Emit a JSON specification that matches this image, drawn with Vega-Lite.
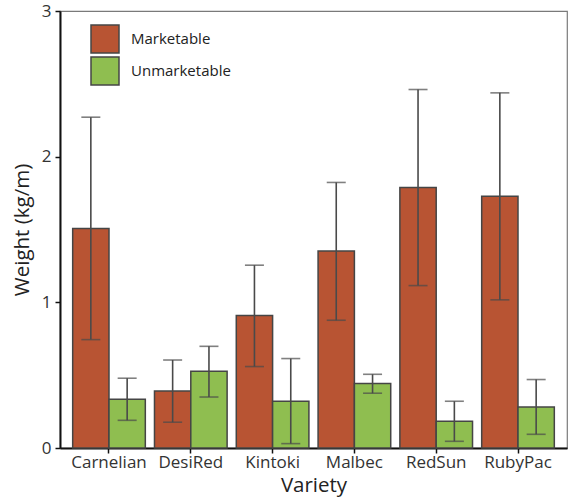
{
  "$schema": "https://vega.github.io/schema/vega-lite/v6.json",
  "autosize": "none",
  "width": 507,
  "height": 437,
  "padding": {"left": 60, "top": 11, "right": 2, "bottom": 56},
  "background": "white",
  "config": {
    "font": "Open Sans",
    "view": {"stroke": "#7a7a7a", "strokeWidth": 1.2},
    "axis": {"grid": false, "domainColor": "#111", "domainWidth": 2, "tickColor": "#111", "tickWidth": 1.5, "tickSize": 5, "labelColor": "#333", "titleColor": "#222", "labelFont": "Open Sans", "titleFont": "Open Sans", "titleFontWeight": "normal"}
  },
  "data": {"values": [
    {"Variety": "Carnelian", "Type": "Marketable", "mean": 1.507, "lo": 0.744, "hi": 2.271},
    {"Variety": "Carnelian", "Type": "Unmarketable", "mean": 0.334, "lo": 0.19, "hi": 0.479},
    {"Variety": "DesiRed", "Type": "Marketable", "mean": 0.392, "lo": 0.177, "hi": 0.604},
    {"Variety": "DesiRed", "Type": "Unmarketable", "mean": 0.527, "lo": 0.35, "hi": 0.698},
    {"Variety": "Kintoki", "Type": "Marketable", "mean": 0.909, "lo": 0.559, "hi": 1.255},
    {"Variety": "Kintoki", "Type": "Unmarketable", "mean": 0.321, "lo": 0.03, "hi": 0.614},
    {"Variety": "Malbec", "Type": "Marketable", "mean": 1.353, "lo": 0.877, "hi": 1.823},
    {"Variety": "Malbec", "Type": "Unmarketable", "mean": 0.442, "lo": 0.376, "hi": 0.506},
    {"Variety": "RedSun", "Type": "Marketable", "mean": 1.788, "lo": 1.115, "hi": 2.461},
    {"Variety": "RedSun", "Type": "Unmarketable", "mean": 0.183, "lo": 0.046, "hi": 0.321},
    {"Variety": "RubyPac", "Type": "Marketable", "mean": 1.729, "lo": 1.017, "hi": 2.438},
    {"Variety": "RubyPac", "Type": "Unmarketable", "mean": 0.282, "lo": 0.094, "hi": 0.47}
  ]},
  "encoding": {
    "x": {"field": "Variety", "type": "nominal", "sort": null,
      "scale": {"paddingInner": 0.112, "paddingOuter": 0.155},
      "axis": {"labelAngle": 0, "labelFontSize": 17, "labelPadding": 1, "title": "Variety", "titleFontSize": 20.5, "titlePadding": 5}},
    "xOffset": {"field": "Type", "type": "nominal"}
  },
  "layer": [
    {
      "mark": {"type": "bar", "stroke": "#454545", "strokeWidth": 1.5},
      "encoding": {
        "y": {"field": "mean", "type": "quantitative", "scale": {"domain": [0, 3], "nice": false},
          "axis": {"values": [0, 1, 2, 3], "format": "d", "labelFontSize": 17, "labelPadding": 4, "title": "Weight (kg/m)", "titleFontSize": 20.5, "titlePadding": 9}},
        "fill": {"field": "Type", "type": "nominal",
          "scale": {"domain": ["Marketable", "Unmarketable"], "range": ["#b85433", "#8fbe50"]},
          "legend": {"title": null, "orient": "none", "legendX": 30, "legendY": 13, "padding": 0,
            "symbolType": "square", "symbolSize": 784, "symbolStrokeColor": "#454545", "symbolStrokeWidth": 1.5,
            "labelFontSize": 15, "labelColor": "#222", "labelOffset": 11, "rowPadding": -4}}
      }
    },
    {
      "mark": {"type": "rule", "color": "#4a4a4a", "strokeWidth": 1.6},
      "encoding": {"y": {"field": "lo", "type": "quantitative"}, "y2": {"field": "hi"}}
    },
    {
      "mark": {"type": "tick", "color": "#4a4a4a", "size": 19, "thickness": 1.6},
      "encoding": {"y": {"field": "lo", "type": "quantitative"}}
    },
    {
      "mark": {"type": "tick", "color": "#4a4a4a", "size": 19, "thickness": 1.6},
      "encoding": {"y": {"field": "hi", "type": "quantitative"}}
    }
  ]
}
